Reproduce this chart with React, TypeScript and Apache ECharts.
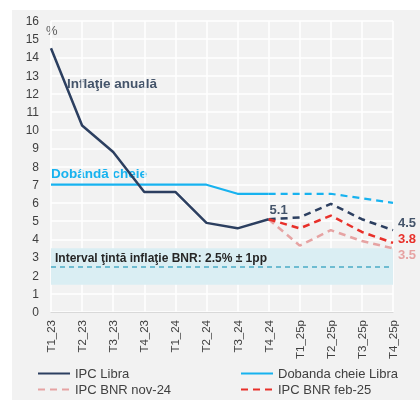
import React, { useEffect, useRef } from "react";
import * as echarts from "echarts";

const categories = ["T1_23", "T2_23", "T3_23", "T4_23", "T1_24", "T2_24", "T3_24", "T4_24", "T1_25p", "T2_25p", "T3_25p", "T4_25p"];
const ipcLibraActual = [14.5, 10.25, 8.8, 6.6, 6.6, 4.9, 4.6, 5.1, null, null, null, null];
const ipcLibraForecast = [null, null, null, null, null, null, null, 5.1, 5.2, 5.95, 5.1, 4.5];
const dobandaActual = [7, 7, 7, 7, 7, 7, 6.5, 6.5, null, null, null, null];
const dobandaForecast = [null, null, null, null, null, null, null, 6.5, 6.5, 6.5, 6.25, 6.0];
const ipcBnrNov24 = [null, null, null, null, null, null, null, 5.1, 3.65, 4.5, 3.9, 3.5];
const ipcBnrFeb25 = [null, null, null, null, null, null, null, 5.1, 4.6, 5.3, 4.4, 3.8];
const targetBand = [1.5, 3.5];
const targetCenter = 2.5;

const FONT = "'Liberation Sans', Arial, sans-serif";
const NAVY = "#2c3f60";
const NAVY_TEXT = "#44546a";
const BLUE = "#17b2ef";
const PINK = "#e6a3a3";
const RED = "#e8302a";

function labelAt(arr: (number | null)[], labels: Record<number, any>) {
  return arr.map((v, i) => (labels[i] && v !== null ? { value: v, label: labels[i] } : v));
}

function legendAt(name: string, left: number, top: number) {
  return {
    orient: "horizontal", left, top, padding: 0, itemWidth: 32, itemHeight: 10, itemGap: 5,
    data: [name],
    itemStyle: { opacity: 0 },
    textStyle: { fontSize: 13, color: "#404040", fontFamily: FONT },
  };
}

export default function App() {
  const ref = useRef<HTMLDivElement>(null);
  useEffect(() => {
    if (!ref.current) return;
    const chart = echarts.init(ref.current, undefined, { renderer: "svg" });
    const last = categories.length - 1;
    const lbl = (color: string, offset: number[], position = "right", weight = "bold") => ({
      show: true, position, offset, color, fontSize: 13, fontWeight: weight, fontFamily: FONT, formatter: "{c}",
    });
    const option: any = {
      animation: false,
      textStyle: { fontFamily: FONT },
      grid: { left: 51, right: 27, top: 21, bottom: 88 },
      graphic: [
        { type: "rect", z: -10, shape: { x: 12, y: 10, width: 408, height: 390 }, style: { fill: "#f2f2f2" } },
        { type: "text", x: 46, y: 30, style: { text: "%", fill: "#595959", font: `13px ${FONT}`, verticalAlign: "middle" } },
        { type: "text", x: 67, y: 83, style: { text: "Inflaţie anuală", fill: NAVY_TEXT, font: `bold 13.5px ${FONT}`, verticalAlign: "middle" } },
        { type: "text", x: 51, y: 173, style: { text: "Dobândă cheie", fill: BLUE, font: `bold 13.5px ${FONT}`, verticalAlign: "middle" } },
        { type: "text", x: 55, y: 258, z: 10, style: { text: "Interval ţintă inflaţie BNR: 2.5% ± 1pp", fill: "#262626", font: `bold 12px ${FONT}`, verticalAlign: "middle" } },
      ],
      legend: [
        legendAt("IPC Libra", 37, 367),
        legendAt("Dobanda cheie Libra", 240, 367),
        legendAt("IPC BNR nov-24", 37, 383),
        legendAt("IPC BNR feb-25", 240, 383),
      ],
      xAxis: {
        type: "category",
        data: categories,
        boundaryGap: false,
        axisLine: { lineStyle: { color: "#d9d9d9" } },
        axisTick: { show: false },
        axisLabel: { rotate: 90, fontSize: 11.5, color: "#404040", margin: 8, fontFamily: FONT },
        splitLine: { show: true, lineStyle: { color: "#ffffff", width: 1.5 } },
      },
      yAxis: {
        type: "value",
        min: 0, max: 16, interval: 1,
        axisLine: { show: false },
        axisTick: { show: false },
        axisLabel: { fontSize: 12, color: "#404040", margin: 12, fontFamily: FONT },
        splitLine: { lineStyle: { color: "#ffffff", width: 1.5 } },
      },
      series: [
        {
          name: "band", type: "line", data: categories.map(() => null), symbol: "none", silent: true, z: 1,
          markArea: {
            silent: true,
            itemStyle: { color: "#daeef3" },
            data: [[{ yAxis: targetBand[0] }, { yAxis: targetBand[1] }]],
          },
          markLine: {
            silent: true, symbol: "none", label: { show: false },
            lineStyle: { color: "#4bacc6", type: [5, 4], width: 1.5 },
            data: [{ yAxis: targetCenter }],
          },
        },
        { name: "Dobanda cheie Libra", type: "line", data: dobandaActual, symbol: "circle", symbolSize: 0, lineStyle: { color: BLUE, width: 2.2 }, itemStyle: { color: BLUE }, z: 3 },
        { name: "Dobanda cheie Libra", type: "line", data: dobandaForecast, symbol: "circle", symbolSize: 0, lineStyle: { color: BLUE, width: 2.2, type: [7, 5] }, itemStyle: { color: BLUE }, z: 3 },
        {
          name: "IPC BNR nov-24", type: "line", symbol: "circle", symbolSize: 0, z: 4,
          data: labelAt(ipcBnrNov24, { [last]: lbl(PINK, [0, 6]) }),
          lineStyle: { color: PINK, width: 2.5, type: [7, 5] }, itemStyle: { color: PINK },
        },
        { name: "IPC Libra", type: "line", data: ipcLibraActual, symbol: "circle", symbolSize: 0, lineStyle: { color: NAVY, width: 2.5 }, itemStyle: { color: NAVY }, z: 5 },
        {
          name: "IPC Libra", type: "line", symbol: "circle", symbolSize: 0, z: 5,
          data: labelAt(ipcLibraForecast, { 7: lbl(NAVY_TEXT, [10, 2], "top"), [last]: lbl(NAVY_TEXT, [0, -8]) }),
          lineStyle: { color: NAVY, width: 2.5, type: [7, 5] }, itemStyle: { color: NAVY },
        },
        {
          name: "IPC BNR feb-25", type: "line", symbol: "circle", symbolSize: 0, z: 6,
          data: labelAt(ipcBnrFeb25, { [last]: lbl(RED, [0, -4]) }),
          lineStyle: { color: RED, width: 2.5, type: [7, 5] }, itemStyle: { color: RED },
        },
      ],
    };
    chart.setOption(option);
    return () => chart.dispose();
  }, []);
  return <div ref={ref} style={{ position: "fixed", left: 0, top: 0, width: 420, height: 400 }} />;
}
